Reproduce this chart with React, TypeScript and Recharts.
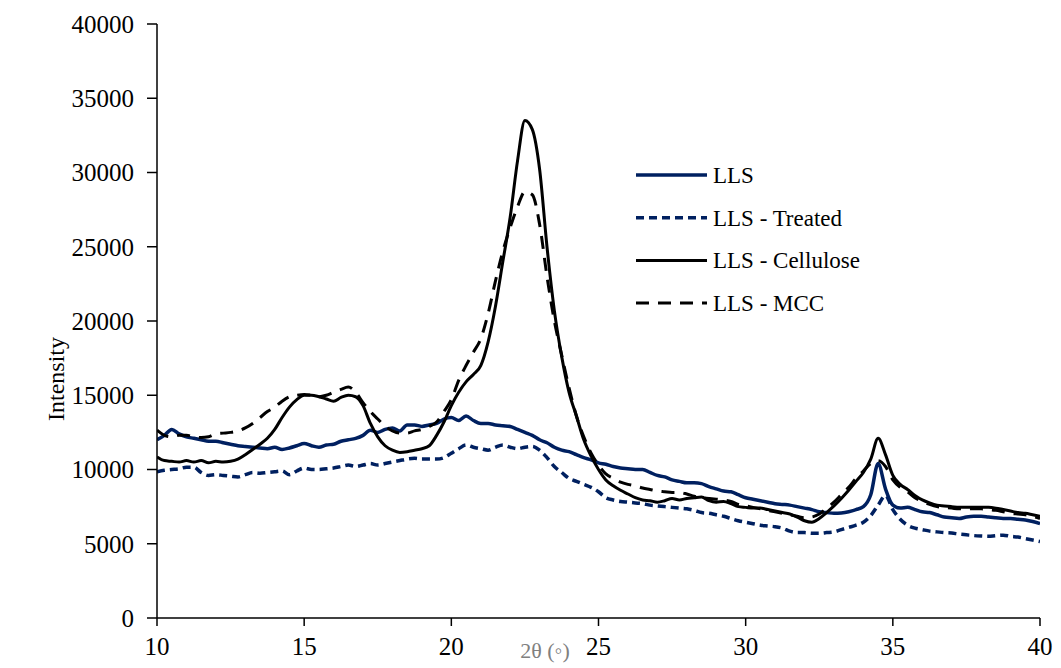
import React from "react";
import { LineChart, Line, XAxis, YAxis } from "recharts";

// ─── Data ───────────────────────────────────────────────────────────────────
const THETA = [
  10, 10.25, 10.5, 10.75, 11, 11.25, 11.5, 11.75, 12, 12.25, 12.5, 12.75,
  13, 13.25, 13.5, 13.75, 14, 14.25, 14.5, 14.75, 15, 15.25, 15.5, 15.75,
  16, 16.25, 16.5, 16.75, 17, 17.25, 17.5, 17.75, 18, 18.25, 18.5, 18.75,
  19, 19.25, 19.5, 19.75, 20, 20.25, 20.5, 20.75, 21, 21.25, 21.5, 21.75,
  22, 22.25, 22.5, 22.75, 23, 23.25, 23.5, 23.75, 24, 24.25, 24.5, 24.75,
  25, 25.25, 25.5, 25.75, 26, 26.25, 26.5, 26.75, 27, 27.25, 27.5, 27.75,
  28, 28.25, 28.5, 28.75, 29, 29.25, 29.5, 29.75, 30, 30.25, 30.5, 30.75,
  31, 31.25, 31.5, 31.75, 32, 32.25, 32.5, 32.75, 33, 33.25, 33.5, 33.75,
  34, 34.25, 34.5, 34.75, 35, 35.25, 35.5, 35.75, 36, 36.25, 36.5, 36.75,
  37, 37.25, 37.5, 37.75, 38, 38.25, 38.5, 38.75, 39, 39.25, 39.5, 39.75,
  40,
];

const LLS = [
  12000, 12300, 12700, 12400, 12200, 12100, 12000, 11900, 11900, 11800, 11700, 11600,
  11550, 11500, 11450, 11400, 11500, 11350, 11450, 11600, 11750, 11600, 11500, 11650,
  11700, 11900, 12000, 12100, 12300, 12650, 12500, 12700, 12800, 12600, 13000, 13000,
  12900, 13000, 13100, 13400, 13500, 13300, 13600, 13300, 13100, 13100, 13000, 12950,
  12900, 12700, 12500, 12300, 12000, 11800, 11500, 11300, 11200, 11000, 10800, 10650,
  10450, 10350, 10200, 10100, 10050, 10000, 10000, 9800, 9600, 9500, 9300, 9200,
  9100, 9100, 9050, 8850, 8700, 8550, 8500, 8300, 8100, 8000, 7900, 7800,
  7700, 7650, 7600, 7500, 7400, 7300, 7150, 7100, 7050, 7070, 7150, 7300,
  7500, 8300, 10400, 8700, 7600, 7400, 7450, 7300, 7150, 7100, 6950, 6800,
  6750, 6700, 6800, 6850, 6850, 6800, 6750, 6700, 6700, 6650, 6600, 6500,
  6350,
];

const LLS_TREATED = [
  9850, 9950, 10000, 10050, 10150, 10150, 9800, 9600, 9650, 9600, 9550, 9500,
  9650, 9800, 9750, 9800, 9850, 9900, 9650, 9900, 10100, 10000, 10000, 10050,
  10100, 10200, 10300, 10200, 10300, 10400, 10300, 10400, 10500, 10600, 10700, 10750,
  10700, 10700, 10700, 10800, 11100, 11400, 11650, 11500, 11400, 11300, 11500, 11650,
  11500, 11400, 11500, 11550, 11300, 10800, 10200, 9800, 9400, 9200, 9000, 8800,
  8500, 8100, 7950, 7850, 7800, 7750, 7700, 7600, 7550, 7500, 7450, 7400,
  7350, 7250, 7100, 7050, 6950, 6850, 6700, 6550, 6450, 6350, 6250, 6200,
  6150, 6050, 5850, 5750, 5750, 5700, 5700, 5750, 5800, 5950, 6100, 6250,
  6450, 6900, 7600, 8250, 7300, 6650, 6250, 6050, 5950, 5850, 5800, 5750,
  5720, 5650, 5600, 5550, 5520, 5500, 5550, 5580, 5500, 5450, 5350, 5250,
  5150,
];

const LLS_CELLULOSE = [
  10850, 10600, 10550, 10500, 10600, 10500, 10600, 10450, 10550, 10500, 10550, 10700,
  11000, 11350, 11700, 12100, 12700, 13500, 14200, 14700, 15000, 15000, 14900, 14750,
  14600, 14850, 15000, 14900, 14300, 13100, 12200, 11600, 11300, 11150, 11200, 11300,
  11400, 11600, 12300, 13200, 14300, 15200, 15900, 16400, 17000, 18600, 21000, 24000,
  27000, 30800, 33500, 32900, 30200, 25000, 20700, 17600, 15200, 13600, 12000, 10900,
  10000, 9300, 8900, 8600, 8350, 8100, 7950, 7900, 7800, 7900, 8050, 7950,
  8050, 8100, 8150, 7900, 7800, 7850, 7700, 7500, 7450, 7400, 7400, 7300,
  7200, 7100, 7000, 6800, 6550, 6450, 6700, 7100, 7550, 8050, 8600, 9200,
  9800, 10700, 12100, 11000, 9600, 9000, 8650, 8250, 7950, 7750, 7600, 7550,
  7500, 7450, 7450, 7450, 7450, 7450, 7400, 7300, 7200, 7100, 7050, 6950,
  6850,
];

const LLS_MCC = [
  12650, 12300, 12200, 12300, 12300, 12200, 12150, 12200, 12400, 12450, 12500, 12600,
  12800, 13100, 13500, 13900, 14200, 14600, 14900, 15000, 15050, 15000, 14900, 15000,
  15200, 15400, 15550, 15200, 14500, 13900, 13400, 12900, 12600, 12450, 12450, 12600,
  12700, 12900, 13200, 13900, 14700, 16000, 17000, 17900, 18800, 20500, 22700, 24700,
  26300, 27700, 28700, 28500, 26500, 23000, 20000, 17700, 15500, 13600, 12200, 11100,
  10300, 9700, 9400, 9150, 9000, 8900, 8750, 8650, 8550, 8500, 8450, 8450,
  8350, 8200, 8100, 8050, 8000, 7950, 7850, 7650, 7550, 7450, 7350, 7250,
  7150, 7050, 6950, 6850, 6750, 6800, 7000, 7400, 7800, 8300, 8800, 9400,
  9900, 10400, 10600, 10200, 9300, 8800, 8500, 8100, 7850, 7650, 7500, 7450,
  7400, 7350, 7350, 7350, 7350, 7300, 7250, 7150, 7050, 7000, 6950, 6850,
  6700,
];

const X_TICKS = [10, 15, 20, 25, 30, 35, 40];
const Y_TICKS = [0, 5000, 10000, 15000, 20000, 25000, 30000, 35000, 40000];

const NAVY = "#002060";

const SERIES = [
  { key: "lls", name: "LLS", color: NAVY, dash: undefined, width: 3.5 },
  { key: "treated", name: "LLS - Treated", color: NAVY, dash: "8 5", width: 3.5 },
  { key: "cellulose", name: "LLS - Cellulose", color: "#000", dash: undefined, width: 3 },
  { key: "mcc", name: "LLS - MCC", color: "#000", dash: "13 9", width: 3 },
];

const rows = THETA.map((x, i) => ({
  x,
  lls: LLS[i],
  treated: LLS_TREATED[i],
  cellulose: LLS_CELLULOSE[i],
  mcc: LLS_MCC[i],
}));

const SERIF = "'Liberation Serif', 'Times New Roman', serif";

const tickStyle = { fontFamily: SERIF, fontSize: 25, fill: "#000" };
const axisLine = { stroke: "#000", strokeWidth: 1.5 };

export default function App() {
  return (
    <div
      style={{
        position: "relative",
        width: 1061,
        height: 668,
        marginLeft: -8,
        marginTop: -8,
        background: "#fff",
        overflow: "hidden",
      }}
    >
      <LineChart
        width={1061}
        height={668}
        data={rows}
        margin={{ top: 24, right: 21, bottom: 20, left: 0 }}
      >
        <XAxis
          dataKey="x"
          type="number"
          domain={[10, 40]}
          ticks={X_TICKS}
          allowDataOverflow
          height={30}
          tick={tickStyle}
          tickSize={8}
          tickMargin={11}
          axisLine={axisLine}
          tickLine={axisLine}
          interval={0}
        />
        <YAxis
          type="number"
          domain={[0, 40000]}
          ticks={Y_TICKS}
          width={157}
          tick={tickStyle}
          tickSize={10}
          tickMargin={13}
          axisLine={axisLine}
          tickLine={axisLine}
          interval={0}
        />
        {SERIES.map((s) => (
          <Line
            key={s.key}
            type="monotone"
            dataKey={s.key}
            name={s.name}
            stroke={s.color}
            strokeWidth={s.width}
            strokeDasharray={s.dash}
            dot={false}
            activeDot={false}
            isAnimationActive={false}
          />
        ))}
      </LineChart>
      {/* chart-area border, axis titles and legend */}
      <svg
        width={1061}
        height={668}
        style={{ position: "absolute", left: 0, top: 0, pointerEvents: "none" }}
      >
        <rect x={7.5} y={7.5} width={1080} height={690} fill="none" stroke="#d9d9d9" />
        <text
          x={0}
          y={0}
          transform="translate(64 379) rotate(-90)"
          textAnchor="middle"
          fontFamily={SERIF}
          fontSize={24}
          fill="#000"
        >
          Intensity
        </text>
        <text x={545} y={658} textAnchor="middle" fontFamily={SERIF} fontSize={22} fill="#808080">
          2θ (◦)
        </text>
        <g transform="translate(636 157)">
          {SERIES.map((s, i) => {
            const y = 18 + i * 42.7;
            return (
              <g key={s.key}>
                <line
                  x1={0}
                  x2={71}
                  y1={y}
                  y2={y}
                  stroke={s.color}
                  strokeWidth={s.width}
                  strokeDasharray={s.dash}
                />
                <text x={77} y={y} dy="0.35em" fontFamily={SERIF} fontSize={23} fill="#000">
                  {s.name}
                </text>
              </g>
            );
          })}
        </g>
      </svg>
    </div>
  );
}
